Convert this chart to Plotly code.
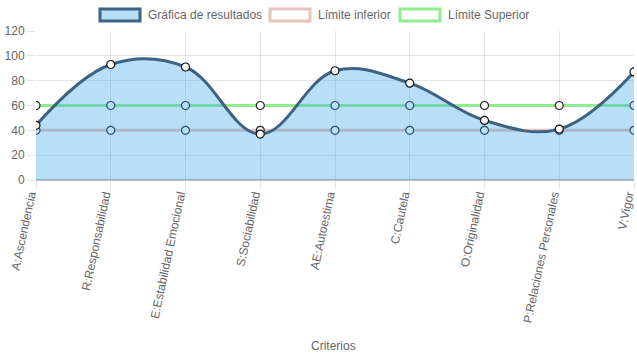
import plotly.graph_objects as go

categorias = ["A:Ascendencia", "R:Responsabilidad", "E:Estabilidad Emocional", "S:Sociabilidad",
              "AE:Autoestima", "C:Cautela", "O:Originalidad", "P:Relaciones Personales", "V:Vigor"]
resultados = [44, 93, 91, 37, 88, 78, 48, 41, 87]
limite_inferior = [40, 40, 40, 40, 40, 40, 40, 40, 40]
limite_superior = [60, 60, 60, 60, 60, 60, 60, 60, 60]
y_ticks = [0, 20, 40, 60, 80, 100, 120]

FONT = "Liberation Sans, Arial, sans-serif"
GREY = "#666666"
BLUE_LINE = "#3e6283"
BLUE_FILL = "rgba(54,162,235,0.35)"
TAN = "#e8c3b9"
GREEN = "#90ee90"

fig = go.Figure()
fig.add_trace(go.Scatter(x=categorias, y=limite_inferior, mode="lines+markers", name="Límite inferior",
                         line=dict(color=TAN, width=3),
                         marker=dict(size=8, color="white", line=dict(color="#222", width=1.2))))
fig.add_trace(go.Scatter(x=categorias, y=limite_superior, mode="lines+markers", name="Límite Superior",
                         line=dict(color=GREEN, width=3),
                         marker=dict(size=8, color="white", line=dict(color="#222", width=1.2))))
fig.add_trace(go.Scatter(x=categorias, y=resultados, mode="lines+markers", name="Gráfica de resultados",
                         fill="tozeroy", fillcolor=BLUE_FILL,
                         line=dict(color=BLUE_LINE, width=3, shape="spline", smoothing=1.1),
                         marker=dict(size=8, color="white", line=dict(color="#111", width=1.2))))

L, R, T, B = 36, 3, 31, 179
W, H = 637, 359
pw, ph = W - L - R, H - T - B

def px(x):
    return (x - L) / pw

def py(y):
    return (H - B - y) / ph

legend = [("Gráfica de resultados", 100, 140, BLUE_FILL, BLUE_LINE),
          ("Límite inferior", 270, 310, "white", TAN),
          ("Límite Superior", 400, 440, "white", GREEN)]
shapes = []
annotations = []
for name, x0, x1, fillc, linec in legend:
    shapes.append(dict(type="rect", xref="paper", yref="paper", x0=px(x0), x1=px(x1),
                       y0=py(21), y1=py(9), fillcolor=fillc, line=dict(color=linec, width=3)))
    annotations.append(dict(text=name, xref="paper", yref="paper", x=px(x1 + 6), y=py(15),
                            xanchor="left", yanchor="middle", showarrow=False,
                            font=dict(family=FONT, size=12, color=GREY)))
annotations.append(dict(text="Criterios", xref="paper", yref="paper", x=px(333), y=py(346),
                        xanchor="center", yanchor="middle", showarrow=False,
                        font=dict(family=FONT, size=12, color=GREY)))

fig.update_layout(
    width=W, height=H, margin=dict(l=L, r=R, t=T, b=B, autoexpand=False),
    paper_bgcolor="white", plot_bgcolor="white", showlegend=False,
    font=dict(family=FONT, size=12, color=GREY),
    shapes=shapes, annotations=annotations,
    xaxis=dict(type="category", range=[0, len(categorias) - 1], tickangle=-78, automargin=False,
               ticklabelshift=-6, ticklabelstandoff=-6,
               showgrid=True, gridcolor="rgba(0,0,0,0.1)", gridwidth=1,
               ticks="outside", ticklen=8, tickcolor="rgba(0,0,0,0.1)",
               showline=False, zeroline=False, tickfont=dict(size=12, color=GREY)),
    yaxis=dict(range=[0, 120], tickvals=y_ticks, showgrid=True, gridcolor="rgba(0,0,0,0.1)",
               ticks="outside", ticklen=8, tickcolor="rgba(0,0,0,0.1)", automargin=False,
               zeroline=True, zerolinecolor="rgba(0,0,0,0.25)", zerolinewidth=2,
               showline=False, tickfont=dict(size=12, color=GREY)),
)
fig.write_html("out.html", config={"displayModeBar": False},
               post_script="document.body.style.margin='0';document.body.style.overflow='hidden';")
